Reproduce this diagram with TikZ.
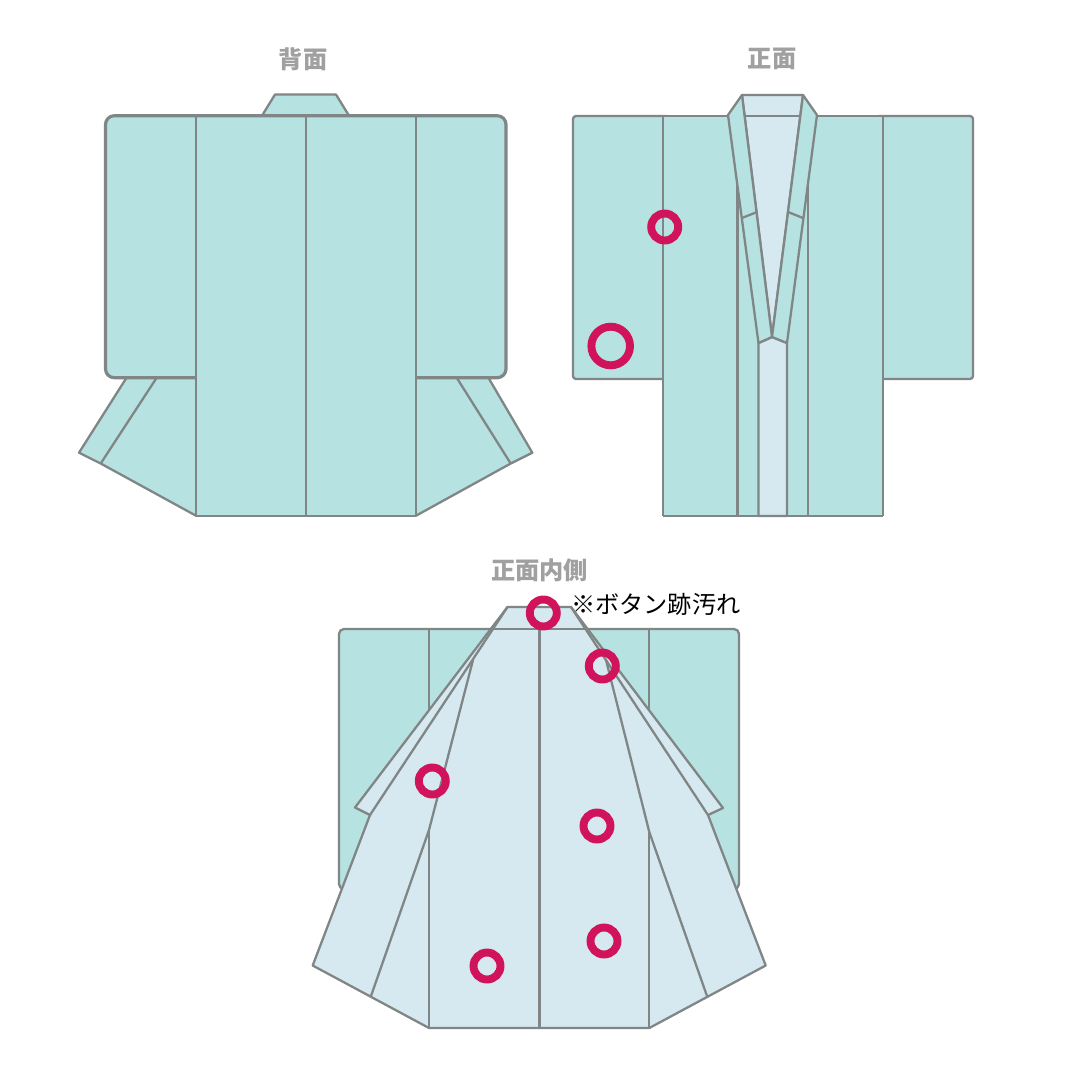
\documentclass[tikz,border=0pt]{standalone}
\usepackage{fontspec}
\setmainfont{Noto Sans CJK JP}
\definecolor{teal}{HTML}{B6E2E1}
\definecolor{pale}{HTML}{D6E8F0}
\definecolor{seam}{HTML}{808585}
\definecolor{titlegray}{HTML}{A0A0A0}
\definecolor{stain}{HTML}{D0135A}
\tikzset{
  seamline/.style={draw=seam,line width=1.3pt,line join=round},
  heavyline/.style={draw=seam,line width=1.8pt,line join=round},
  tealpart/.style={seamline,fill=teal},
  palepart/.style={seamline,fill=pale},
  heading/.style={text=titlegray,font=\bfseries\fontsize{13.8}{16}\selectfont,inner sep=0pt},
  note/.style={text=black,font=\fontsize{13.75}{16}\selectfont,inner sep=0pt},
  mark ring/.style={draw=stain,line width=4.5pt,fill=none},
  big ring/.style={draw=stain,line width=4.5pt,fill=none}
}
\begin{document}
\begin{tikzpicture}[x=0.02cm,y=-0.02cm]
\useasboundingbox (0,0) rectangle (1080,1080);
\fill[white] (0,0) rectangle (1080,1080);

% Back view
\node[heading] (backtitle) at (303,59) {背面};
\draw[tealpart] (262,115.7) -- (275,94.5) -- (336,94.5) -- (349,115.7);
\draw[tealpart] (127,377) -- (79,452.7) -- (100.7,463.5) -- (196,515.7) -- (416,515.7)
  -- (510.7,463.5) -- (532.3,452.7) -- (488,377) -- cycle;
\draw[seamline] (156.7,377.7) -- (100.7,463.5);
\draw[seamline] (456.7,377.7) -- (510.7,463.5);
\draw[heavyline,fill=teal,rounded corners=5pt] (105.5,115.7) rectangle (506,377.7);
\fill[teal] (197,370) rectangle (415,515);
\draw[seamline,line width=1.5pt] (196,115.7) -- (196,515.7);
\draw[seamline,line width=1.5pt] (306,115.7) -- (306,515.7);
\draw[seamline,line width=1.5pt] (416,115.7) -- (416,515.7);

% Front view
\node[heading] (fronttitle) at (772,59) {正面};
\draw[tealpart,rounded corners=1.7pt] (573,116) rectangle (670,379);
\draw[tealpart,rounded corners=1.7pt] (876,116) rectangle (973,379);
\fill[teal] (663,116) rectangle (883,516);
\draw[seamline] (663,116) -- (883,116);
\draw[seamline] (663,516) -- (883,516);
\draw[seamline] (663,116) -- (663,516);
\draw[seamline] (883,116) -- (883,516);
\draw[seamline] (737.5,150) -- (737.5,516);
\draw[seamline] (808,150) -- (808,516);
\draw[palepart] (758.5,343) -- (772,337) -- (787,343) -- (787,516) -- (758.5,516) -- cycle;
\draw[palepart] (742,95) -- (803,95) -- (772,337) -- cycle;
\draw[tealpart] (728,115) -- (742,95) -- (772,337) -- (758.5,343) -- cycle;
\draw[tealpart] (817,115) -- (803,95) -- (772,337) -- (787,343) -- cycle;
\draw[seamline] (745,116) -- (800,116);
\draw[seamline] (742,218) -- (757,212);
\draw[seamline] (803,218) -- (788,212);
\draw[big ring] (610.7,346) circle (19.3);
\draw[mark ring] (664.7,227) circle (13.5);

% Inside of the front
\node[heading] (insidetitle) at (539.5,570) {正面内側};
\node[note,anchor=west] (stainnote) at (571,604) {※ボタン跡汚れ};
\draw[tealpart,rounded corners=2.8pt] (339,629) rectangle (739,889);
\draw[seamline] (429,629) -- (429,720);
\draw[seamline] (649,629) -- (649,720);
\draw[palepart] (507.5,607) -- (571,607) -- (723,808) -- (708,815) -- (765.7,965.5)
  -- (649.3,1028) -- (429,1028) -- (312.7,965.5) -- (370,815) -- (355,807.5) -- cycle;
\draw[seamline] (507.5,607) -- (370,815);
\draw[seamline] (571,607) -- (708,815);
\draw[seamline] (493,629) -- (585,629);
\draw[seamline] (539.4,629) -- (539.4,1028);
\draw[seamline] (473,660) -- (429,830) -- (371,996);
\draw[seamline] (606,660) -- (649.3,832) -- (707,996);
\draw[seamline] (429,830) -- (429,1028);
\draw[seamline] (649.3,832) -- (649.3,1028);
\foreach \px/\py in {543.3/613,602.3/666,432.3/781,597/826,604/941,487/966}
  \draw[mark ring] (\px,\py) circle (13.5);
\end{tikzpicture}
\end{document}
